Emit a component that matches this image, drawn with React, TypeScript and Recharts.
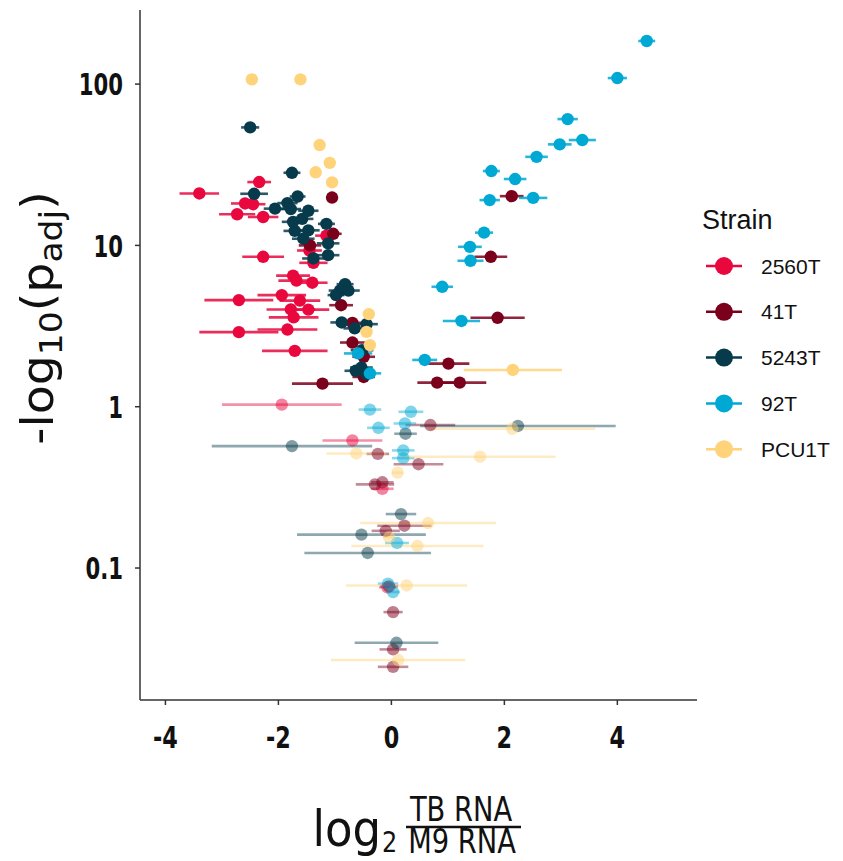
import React from 'react';
import { ScatterChart, Scatter, XAxis, YAxis, ErrorBar, Legend } from 'recharts';

type Pt = { x: number; y: number; e: number };

const strains = ['2560T', '41T', '5243T', '92T', 'PCU1T'];
const colors = ['#E8083E', '#7B001C', '#073B4C', '#00A9D4', '#FFD37A'];
const xTicks = [-4, -2, 0, 2, 4];
const yTicks = [0.1, 1, 10, 100];
const sigThreshold = 1.3;

const d2560T: Pt[] = [
  { x: -2.34, y: 24.7, e: 0.21 }, { x: -3.4, y: 21.0, e: 0.35 }, { x: -2.59, y: 18.2, e: 0.25 },
  { x: -2.45, y: 18.0, e: 0.22 }, { x: -2.73, y: 15.6, e: 0.32 }, { x: -2.27, y: 15.0, e: 0.27 },
  { x: -1.15, y: 11.5, e: 0.2 }, { x: -1.45, y: 9.3, e: 0.22 }, { x: -1.38, y: 7.8, e: 0.25 },
  { x: -2.27, y: 8.5, e: 0.37 }, { x: -1.74, y: 6.5, e: 0.3 }, { x: -1.68, y: 6.05, e: 0.32 },
  { x: -1.4, y: 5.87, e: 0.27 }, { x: -1.94, y: 4.92, e: 0.43 }, { x: -2.7, y: 4.58, e: 0.61 },
  { x: -1.62, y: 4.55, e: 0.36 }, { x: -1.78, y: 4.01, e: 0.43 }, { x: -1.47, y: 4.0, e: 0.37 },
  { x: -1.73, y: 3.58, e: 0.44 }, { x: -2.7, y: 2.9, e: 0.7 }, { x: -1.84, y: 3.01, e: 0.53 },
  { x: -1.71, y: 2.22, e: 0.58 },
  { x: -1.94, y: 1.03, e: 1.06 }, { x: -0.69, y: 0.618, e: 0.53 }, { x: -0.16, y: 0.31, e: 0.2 },
  { x: -0.07, y: 0.076, e: 0.15 },
];

const d41T: Pt[] = [
  { x: -1.05, y: 19.8, e: 0.1 }, { x: -1.03, y: 11.8, e: 0.15 }, { x: -1.44, y: 10.0, e: 0.2 },
  { x: -0.89, y: 4.26, e: 0.21 }, { x: -0.69, y: 3.31, e: 0.2 }, { x: -0.69, y: 2.5, e: 0.22 },
  { x: -0.49, y: 2.04, e: 0.2 }, { x: -0.49, y: 1.53, e: 0.2 }, { x: -1.22, y: 1.39, e: 0.54 },
  { x: 2.13, y: 20.2, e: 0.21 }, { x: 1.76, y: 8.5, e: 0.29 }, { x: 1.88, y: 3.56, e: 0.48 },
  { x: 1.01, y: 1.85, e: 0.37 }, { x: 0.81, y: 1.41, e: 0.35 }, { x: 1.21, y: 1.41, e: 0.47 },
  { x: 0.69, y: 0.77, e: 0.44 }, { x: -0.24, y: 0.51, e: 0.2 }, { x: 0.48, y: 0.44, e: 0.44 },
  { x: -0.29, y: 0.33, e: 0.34 }, { x: -0.16, y: 0.34, e: 0.2 }, { x: 0.23, y: 0.183, e: 0.48 },
  { x: -0.1, y: 0.17, e: 0.25 }, { x: -0.04, y: 0.077, e: 0.16 }, { x: 0.03, y: 0.0533, e: 0.17 },
  { x: 0.03, y: 0.0313, e: 0.24 }, { x: 0.03, y: 0.0244, e: 0.27 },
];

const d5243T: Pt[] = [
  { x: -2.5, y: 53.9, e: 0.16 }, { x: -1.76, y: 28.2, e: 0.15 }, { x: -2.43, y: 20.9, e: 0.245 },
  { x: -1.66, y: 20.1, e: 0.14 }, { x: -2.06, y: 16.9, e: 0.2 }, { x: -1.84, y: 18.3, e: 0.18 },
  { x: -1.78, y: 16.8, e: 0.18 }, { x: -1.47, y: 16.4, e: 0.18 }, { x: -1.58, y: 14.6, e: 0.2 },
  { x: -1.74, y: 14.0, e: 0.2 }, { x: -1.15, y: 13.6, e: 0.15 }, { x: -1.71, y: 12.3, e: 0.2 },
  { x: -1.47, y: 12.4, e: 0.2 }, { x: -1.56, y: 11.0, e: 0.2 }, { x: -1.12, y: 10.3, e: 0.2 },
  { x: -1.12, y: 8.7, e: 0.2 }, { x: -1.38, y: 8.3, e: 0.2 }, { x: -0.82, y: 5.75, e: 0.15 },
  { x: -0.91, y: 5.25, e: 0.2 }, { x: -0.76, y: 5.25, e: 0.2 }, { x: -0.98, y: 4.92, e: 0.15 },
  { x: -0.88, y: 3.33, e: 0.2 }, { x: -0.65, y: 3.06, e: 0.2 }, { x: -0.44, y: 3.25, e: 0.2 },
  { x: -0.52, y: 2.24, e: 0.2 }, { x: -0.53, y: 1.75, e: 0.2 }, { x: -0.63, y: 1.67, e: 0.2 },
  { x: -0.44, y: 1.59, e: 0.15 },
  { x: 2.24, y: 0.76, e: 1.73 }, { x: 0.25, y: 0.68, e: 0.2 }, { x: -1.76, y: 0.57, e: 1.42 },
  { x: 0.17, y: 0.216, e: 0.27 }, { x: -0.53, y: 0.161, e: 1.14 }, { x: -0.42, y: 0.124, e: 1.12 },
  { x: 0.09, y: 0.0344, e: 0.74 },
];

const d92T: Pt[] = [
  { x: 4.52, y: 185, e: 0.15 }, { x: 4.0, y: 109, e: 0.17 }, { x: 3.12, y: 60.7, e: 0.18 },
  { x: 3.38, y: 45.0, e: 0.24 }, { x: 2.98, y: 42.3, e: 0.21 }, { x: 2.57, y: 35.4, e: 0.2 },
  { x: 1.77, y: 28.9, e: 0.15 }, { x: 2.19, y: 25.8, e: 0.2 }, { x: 1.74, y: 19.1, e: 0.18 },
  { x: 2.51, y: 19.7, e: 0.25 }, { x: 1.64, y: 12.0, e: 0.16 }, { x: 1.39, y: 9.8, e: 0.21 },
  { x: 1.4, y: 8.03, e: 0.23 }, { x: 0.9, y: 5.54, e: 0.19 }, { x: 1.24, y: 3.4, e: 0.33 },
  { x: 0.59, y: 1.95, e: 0.22 }, { x: -0.59, y: 2.14, e: 0.25 }, { x: -0.38, y: 1.61, e: 0.2 },
  { x: -0.38, y: 0.96, e: 0.2 }, { x: 0.345, y: 0.93, e: 0.22 }, { x: 0.24, y: 0.787, e: 0.2 },
  { x: -0.23, y: 0.74, e: 0.2 }, { x: 0.21, y: 0.536, e: 0.2 }, { x: 0.21, y: 0.48, e: 0.2 },
  { x: 0.1, y: 0.143, e: 0.21 }, { x: -0.06, y: 0.08, e: 0.18 }, { x: 0.03, y: 0.071, e: 0.12 },
];

const dPCU1T: Pt[] = [
  { x: -2.47, y: 107, e: 0 }, { x: -1.61, y: 107, e: 0 }, { x: -1.27, y: 41.9, e: 0 },
  { x: -1.09, y: 32.5, e: 0 }, { x: -1.34, y: 28.4, e: 0 }, { x: -1.05, y: 24.6, e: 0 },
  { x: -0.4, y: 3.75, e: 0.05 }, { x: -0.44, y: 2.91, e: 0.05 }, { x: -0.38, y: 2.41, e: 0.05 },
  { x: 2.15, y: 1.69, e: 0.87 },
  { x: 2.14, y: 0.73, e: 1.47 }, { x: -0.62, y: 0.513, e: 0.53 }, { x: 1.57, y: 0.49, e: 1.34 },
  { x: 0.11, y: 0.39, e: 0.1 }, { x: 0.65, y: 0.19, e: 1.2 }, { x: -0.04, y: 0.155, e: 0.1 },
  { x: 0.46, y: 0.137, e: 1.17 }, { x: 0.27, y: 0.078, e: 1.07 }, { x: 0.12, y: 0.0269, e: 1.19 },
];

const strainData = [d2560T, d41T, d5243T, d92T, dPCU1T];

const COND = '"DejaVu Sans Condensed", "DejaVu Sans", sans-serif';
const SANS = '"Liberation Sans", Arial, sans-serif';

const XTick = (props: any) => {
  const { x, y, payload } = props;
  return (
    <text
      transform={`translate(${x},${y}) scale(0.8,1)`}
      textAnchor="middle"
      dy="0.72em"
      fontFamily={COND}
      fontWeight={700}
      fontSize={31}
      fill="#111"
    >
      {payload.value}
    </text>
  );
};

const YTick = (props: any) => {
  const { x, y, payload } = props;
  return (
    <text
      transform={`translate(${x},${y}) scale(0.76,1)`}
      textAnchor="end"
      dy="0.36em"
      fontFamily={COND}
      fontWeight={700}
      fontSize={31}
      fill="#111"
    >
      {String(payload.value)}
    </text>
  );
};

const YTitle = () => (
  <text
    transform="translate(45,310) rotate(-90) scale(1.2,1)"
    textAnchor="middle"
    fontFamily={COND}
    fontSize={44}
    fill="#111"
  >
    <tspan>-log</tspan>
    <tspan fontSize={32} dy={9}>10</tspan>
    <tspan dy={-9}>(p</tspan>
    <tspan fontSize={32} dy={9}>adj</tspan>
    <tspan dy={-9}>)</tspan>
  </text>
);

const XTitle = () => (
  <g fontFamily={COND} fill="#111">
    <text transform="translate(373,838)" textAnchor="end" fontSize={50}>log</text>
    <text transform="translate(374,844) scale(0.95,1)" textAnchor="start" fontSize={28}>2</text>
    <text transform="translate(453,813) scale(0.92,1)" textAnchor="middle" fontSize={33}>TB RNA</text>
    <line x1={398} x2={513} y1={819} y2={819} stroke="#111" strokeWidth={2.5} />
    <text transform="translate(454,845) scale(0.92,1)" textAnchor="middle" fontSize={33}>M9 RNA</text>
  </g>
);

const LegendBox = () => (
  <svg width={140} height={290} style={{ display: 'block' }}>
    <text x={2} y={39} fontFamily={SANS} fontSize={27} fill="#111">
      Strain
    </text>
    {strains.map((s, i) => {
      const cy = 76 + i * 45.8;
      return (
        <g key={s}>
          <line x1={6} x2={42} y1={cy} y2={cy} stroke={colors[i]} strokeWidth={2.5} />
          <circle cx={24} cy={cy} r={9} fill={colors[i]} />
          <text x={61} y={cy + 7.5} fontFamily={SANS} fontSize={21} fill="#111">
            {s}
          </text>
        </g>
      );
    })}
  </svg>
);

const makeShape = (color: string, op: number) => (props: any) => {
  const { cx, cy } = props;
  if (cx == null || cy == null) return <g />;
  return <circle cx={cx} cy={cy} r={6.2} fill={color} fillOpacity={op} />;
};

export default function App() {
  const series: React.ReactNode[] = [];
  strainData.forEach((arr, i) => {
    const nonSig = arr.filter((p) => p.y < sigThreshold);
    const sig = arr.filter((p) => p.y >= sigThreshold);
    [
      { d: nonSig, op: 0.5, k: 'n' },
      { d: sig, op: 1, k: 's' },
    ].forEach(({ d, op, k }) => {
      series.push(
        <Scatter
          key={strains[i] + k}
          name={strains[i]}
          data={d}
          dataKey="y"
          isAnimationActive={false}
          shape={makeShape(colors[i], op)}
        >
          <ErrorBar
            dataKey="e"
            direction="x"
            width={0}
            stroke={colors[i]}
            strokeOpacity={op === 1 ? 0.85 : 0.45}
            strokeWidth={2.6}
            isAnimationActive={false}
          />
        </Scatter>
      );
    });
  });

  return (
    <div style={{ width: 835, height: 853 }}>
      <ScatterChart
        width={835}
        height={853}
        margin={{ top: 2, right: 146, left: 0, bottom: 101 }}
      >
        <XAxis
          type="number"
          dataKey="x"
          domain={[-4.45, 5.41]}
          ticks={xTicks}
          allowDataOverflow
          height={60}
          stroke="#333"
          strokeWidth={1.5}
          tickSize={5}
          tickMargin={21}
          tick={<XTick />}
          label={<XTitle />}
        />
        <YAxis
          type="number"
          dataKey="y"
          scale="log"
          domain={[0.0152, 288]}
          ticks={yTicks}
          allowDataOverflow
          width={132}
          stroke="#333"
          strokeWidth={1.5}
          tickSize={5}
          tickMargin={12}
          tick={<YTick />}
          label={<YTitle />}
        />
        <Legend
          layout="vertical"
          align="center"
          verticalAlign="middle"
          wrapperStyle={{ left: 692, top: 182, width: 140, height: 290 }}
          content={() => <LegendBox />}
        />
        {series}
      </ScatterChart>
    </div>
  );
}
